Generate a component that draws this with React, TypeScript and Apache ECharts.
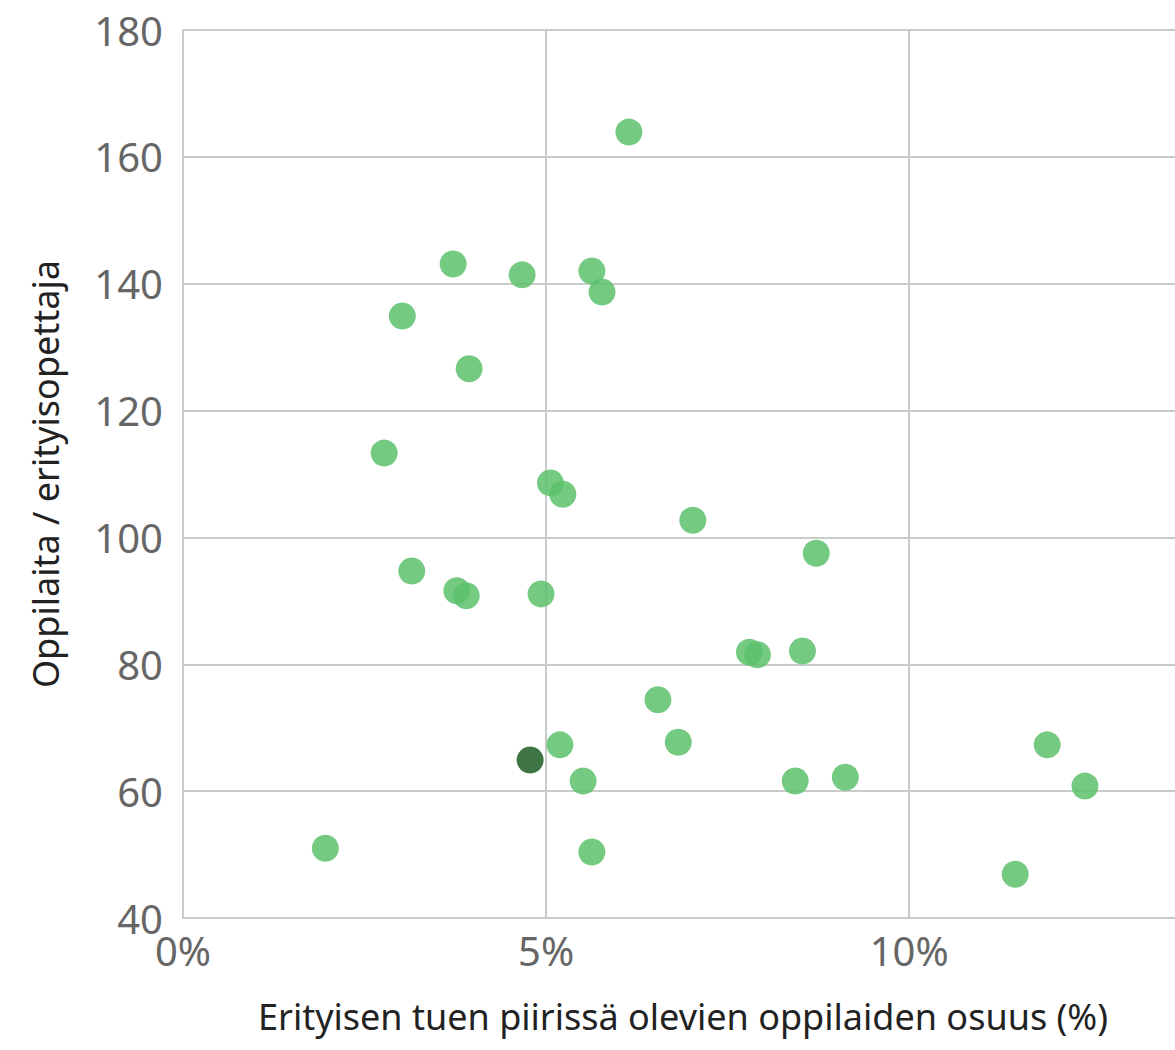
import React, { useEffect, useRef } from "react";
import * as echarts from "echarts";

const xValues = [1.96, 2.77, 3.02, 3.15, 3.72, 3.77, 3.9, 3.94, 4.67, 4.93, 5.06, 5.23, 5.19, 5.51, 5.63, 5.77, 5.63, 6.14, 6.54, 6.82, 7.02, 7.8, 7.91, 8.43, 8.53, 8.72, 9.12, 11.46, 11.9, 12.42];
const yValues = [51.0, 113.3, 134.9, 94.7, 143.1, 91.6, 90.8, 126.6, 141.4, 91.1, 108.6, 106.8, 67.3, 61.6, 142.0, 138.7, 50.4, 163.9, 74.4, 67.7, 102.7, 81.9, 81.5, 61.6, 82.1, 97.5, 62.2, 46.9, 67.3, 60.8];
const highlightX = [4.78];
const highlightY = [64.9];
const xTitle = "Erityisen tuen piirissä olevien oppilaiden osuus (%)";
const yTitle = "Oppilaita / erityisopettaja";

const FONT = "'Noto Sans', 'Open Sans', sans-serif";

export default function App() {
  const ref = useRef<HTMLDivElement>(null);
  useEffect(() => {
    if (!ref.current) return;
    const chart = echarts.init(ref.current, null, { renderer: "svg" });
    chart.setOption({
      animation: false,
      textStyle: { fontFamily: FONT },
      grid: { left: 183, top: 30, width: 1000, bottom: 132, containLabel: false, outerBoundsMode: "none" },
      xAxis: {
        type: "value",
        min: 0,
        max: 13.77,
        interval: 5,
        name: xTitle,
        nameLocation: "middle",
        nameGap: 80,
        nameTextStyle: { fontSize: 36, color: "#222", fontFamily: FONT, padding: [0, 0, 0, 0] },
        axisLine: { show: true, lineStyle: { color: "#c8ccc8", width: 2 } },
        axisTick: { show: false },
        splitLine: { show: true, lineStyle: { color: "#c8ccc8", width: 2 } },
        axisLabel: {
          fontSize: 40,
          color: "#666",
          margin: 12,
          fontFamily: FONT,
          formatter: (v: number) => (Math.abs(v - Math.round(v / 5) * 5) < 1e-6 ? Math.round(v) + "%" : ""),
        },
      },
      yAxis: {
        type: "value",
        min: 40,
        max: 180,
        interval: 20,
        name: yTitle,
        nameLocation: "middle",
        nameGap: 120,
        nameRotate: 90,
        nameTextStyle: { fontSize: 36, color: "#222", fontFamily: FONT },
        axisLine: { show: true, lineStyle: { color: "#c8ccc8", width: 2 } },
        axisTick: { show: false },
        splitLine: { show: true, lineStyle: { color: "#c8ccc8", width: 2 } },
        axisLabel: { fontSize: 40, color: "#666", margin: 20, fontFamily: FONT },
      },
      series: [
        {
          type: "scatter",
          symbolSize: 27,
          data: xValues.map((x, i) => [x, yValues[i]]),
          itemStyle: { color: "#5cc16b", opacity: 0.85 },
        },
        {
          type: "scatter",
          symbolSize: 27,
          data: highlightX.map((x, i) => [x, highlightY[i]]),
          itemStyle: { color: "#2a6632", opacity: 0.9 },
        },
      ],
    });
    return () => chart.dispose();
  }, []);
  return <div ref={ref} style={{ position: "absolute", left: 0, top: 0, width: 1175, height: 1050 }} />;
}
